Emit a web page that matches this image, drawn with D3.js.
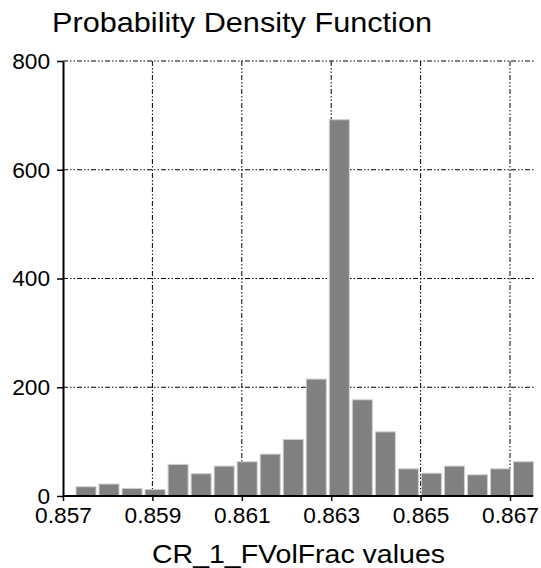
<!DOCTYPE html>
<html><head><meta charset="utf-8">
<script src="https://cdn.jsdelivr.net/npm/d3@7"></script>
<style>body{margin:0;background:#fff}svg{display:block}text{font-family:"Liberation Sans",Arial,sans-serif}</style>
</head><body><svg id="c" width="541" height="568"></svg>
<script>
// Histogram (probability density) data
const binLow = 0.857257;      // lower edge of first bin
const binHigh = 0.86756;      // upper edge of last bin
const density = [17, 22, 14, 12, 58, 41, 55, 63, 77, 104, 215, 692, 177, 118, 50, 42, 55, 39, 50, 63];
const xTicks = [0.857, 0.859, 0.861, 0.863, 0.865, 0.867];
const yTicks = [0, 200, 400, 600, 800];
const title = "Probability Density Function";
const xLabel = "CR_1_FVolFrac values";

const svg = d3.select("#c");
const x = d3.scaleLinear().domain([0.857, 0.867]).range([63, 510]);
const y = d3.scaleLinear().domain([0, 800]).range([496, 61]);
const bw = (binHigh - binLow) / density.length;
const bins = density.map((v, i) => ({x0: binLow + i * bw, x1: binLow + (i + 1) * bw, v}));
const dash = "5,2,1.5,2,1.5,2";

// grid
const g = svg.append("g");
g.selectAll(".hg").data(yTicks.filter(d => d > 0)).join("line")
  .attr("x1", x(0.857)).attr("x2", x(binHigh))
  .attr("y1", d => y(d)).attr("y2", d => y(d))
  .attr("stroke", "#000").attr("stroke-width", 1).attr("stroke-dasharray", dash);
g.selectAll(".vg").data(xTicks.filter(d => d > 0.857)).join("line")
  .attr("x1", d => x(d)).attr("x2", d => x(d))
  .attr("y1", y(800)).attr("y2", y(0))
  .attr("stroke", "#000").attr("stroke-width", 1).attr("stroke-dasharray", dash);

// bars
svg.append("g").selectAll("rect").data(bins).join("rect")
  .attr("x", d => x(d.x0) + 1.5)
  .attr("width", d => x(d.x1) - x(d.x0) - 3)
  .attr("y", d => y(d.v))
  .attr("height", d => y(0) - y(d.v))
  .attr("fill", "#808080").attr("stroke", "#cfcfcf").attr("stroke-width", 1);

// axes
const xa = svg.append("g").attr("transform", `translate(0,${y(0)})`)
  .call(d3.axisBottom(x).tickValues(xTicks).tickFormat(d3.format(".3f")).tickSize(5).tickSizeOuter(0));
xa.select(".domain").attr("d", `M${x(0.857)},0H${x(binHigh) - 2}`).attr("stroke-width", 2);
xa.selectAll("text").attr("font-size", 22.7).attr("fill", "#000").attr("dy", "0.85em").attr("y", 8);
const ya = svg.append("g").attr("transform", `translate(${x(0.857)},0)`)
  .call(d3.axisLeft(y).tickValues(yTicks).tickSize(6).tickSizeOuter(0));
ya.select(".domain").attr("stroke-width", 2);
ya.selectAll("text").attr("font-size", 22.7).attr("fill", "#000").attr("x", -13);
svg.selectAll(".tick line").attr("stroke", "#000").attr("stroke-width", 1.5);

svg.append("text").attr("x", 52).attr("y", 32).attr("font-size", 28)
  .attr("textLength", 380).attr("lengthAdjust", "spacingAndGlyphs").text(title);
svg.append("text").attr("x", 152).attr("y", 562.5).attr("font-size", 25)
  .attr("textLength", 293).attr("lengthAdjust", "spacingAndGlyphs").text(xLabel);
</script></body></html>
